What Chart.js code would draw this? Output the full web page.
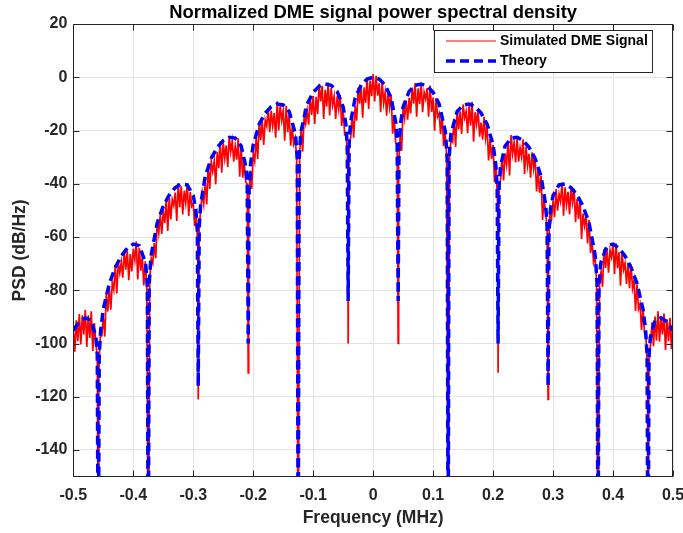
<!DOCTYPE html>
<html><head><meta charset="utf-8">
<script src="https://cdn.jsdelivr.net/npm/chart.js@4.4.1/dist/chart.umd.min.js"></script>
<style>html,body{margin:0;padding:0;background:#fff}#wrap{width:683px;height:533px}</style>
</head><body><div id="wrap"><canvas id="c" width="683" height="533"></canvas></div>
<script>
const chartTitle = 'Normalized DME signal power spectral density';
const xAxisLabel = 'Frequency (MHz)';
const yAxisLabel = 'PSD (dB/Hz)';
const seriesNames = ['Simulated DME Signal', 'Theory'];
const xTicks = [-0.5,-0.4,-0.3,-0.2,-0.1,0,0.1,0.2,0.3,0.4,0.5];
const yTicks = [20,0,-20,-40,-60,-80,-100,-120,-140];

// Theory curve
const freqTheory = [-0.50,-0.49,-0.48,-0.47,-0.4623,-0.46,-0.4583,-0.4568,-0.4543,-0.45,-0.44,-0.43,-0.42,-0.41,-0.40,-0.39,-0.38,-0.379,-0.3765,-0.375,-0.3735,-0.371,-0.37,-0.36,-0.35,-0.34,-0.33,-0.32,-0.31,-0.30,-0.2957,-0.2932,-0.2917,-0.29,-0.2877,-0.28,-0.27,-0.26,-0.25,-0.24,-0.23,-0.22,-0.2123,-0.21,-0.2083,-0.2068,-0.2043,-0.20,-0.19,-0.18,-0.17,-0.16,-0.15,-0.14,-0.13,-0.129,-0.1265,-0.125,-0.1235,-0.121,-0.12,-0.11,-0.10,-0.09,-0.08,-0.07,-0.06,-0.05,-0.0457,-0.0432,-0.0417,-0.04,-0.0377,-0.03,-0.02,-0.01,
0,0.01,0.02,0.03,0.0377,0.04,0.0417,0.0432,0.0457,0.05,0.06,0.07,0.08,0.09,0.10,0.11,0.12,0.121,0.1235,0.125,0.1265,0.129,0.13,0.14,0.15,0.16,0.17,0.18,0.19,0.20,0.2043,0.2068,0.2083,0.21,0.2123,0.22,0.23,0.24,0.25,0.26,0.27,0.28,0.2877,0.29,0.2917,0.2932,0.2957,0.30,0.31,0.32,0.33,0.34,0.35,0.36,0.37,0.371,0.3735,0.375,0.3765,0.379,0.38,0.39,0.40,0.41,0.42,0.43,0.44,0.45,0.4543,0.4568,0.4583,0.46,0.4623,0.47,0.48,0.49,0.50];
const psdTheory = [-95.00,-91.87,-90.30,-91.36,-97.7,-104.45,-200,-104.3,-94.9,-87.15,-77.48,-71.41,-67.10,-64.16,-62.64,-63.22,-69.42,-71.0,-78.8,-200,-78.0,-68.8,-66.57,-54.67,-48.39,-44.21,-41.45,-40.06,-40.43,-44.40,-49.7,-57.6,-116,-56.00,-47.9,-37.21,-30.45,-26.32,-23.75,-22.52,-22.85,-25.81,-33.6,-40.80,-100,-41.2,-32.3,-25.40,-17.63,-13.46,-11.05,-10.01,-10.39,-12.87,-20.97,-22.8,-31.0,-200,-30.8,-22.0,-20.02,-10.02,-5.64,-3.36,-2.50,-3.01,-5.28,-11.15,-17.3,-25.6,-84,-24.65,-17.0,-7.76,-2.90,-0.67,
0,-0.67,-2.90,-7.76,-17.0,-24.65,-84,-25.6,-17.3,-11.15,-5.28,-3.01,-2.50,-3.36,-5.64,-10.02,-20.02,-22.0,-30.8,-200,-31.0,-22.8,-20.97,-12.87,-10.39,-10.01,-11.05,-13.46,-17.63,-25.40,-32.3,-41.2,-100,-40.80,-33.6,-25.81,-22.85,-22.52,-23.75,-26.32,-30.45,-37.21,-47.9,-56.00,-116,-57.6,-49.7,-44.40,-40.43,-40.06,-41.45,-44.21,-48.39,-54.67,-66.57,-68.8,-78.0,-200,-78.8,-71.0,-69.42,-63.22,-62.64,-64.16,-67.10,-71.41,-77.48,-87.15,-94.9,-104.3,-200,-104.45,-97.7,-91.36,-90.30,-91.87,-95.00];

const simStartFreq = -0.5;
const simStepFreq = 0.0025;
const psdSim = [
-94.0,-103.1,-91.3,-99.1,-88.9,-100.4,-89.4,-96.6,-87.3,-101.3,-89.4,-97.9,-87.9,-102.8,-92.3,-99.3,-105.5,-110.6,-97.5,-97.1,
-89.8,-97.4,-81.3,-88.0,-78.9,-87.3,-77.2,-79.8,-70.4,-81.2,-69.5,-73.6,-69.3,-75.3,-64.9,-72.3,-65.2,-76.2,-66.4,-72.9,
-64.4,-68.6,-61.7,-75.9,-64.0,-72.6,-67.6,-78.2,-69.1,-77.7,-200,-75.7,-68.0,-69.9,-62.3,-68.0,-53.7,-58.4,-51.6,-58.8,
-50.6,-54.7,-45.5,-57.7,-45.2,-53.4,-45.9,-48.1,-43.3,-54.0,-39.7,-48.8,-40.9,-51.5,-42.6,-47.2,-40.1,-52.1,-43.1,-48.5,
-47.4,-55.9,-50.1,-64.6,-56.0,-49.5,-43.4,-47.6,-39.4,-47.8,-32.8,-41.9,-31.5,-35.3,-31.4,-40.2,-28.1,-34.1,-24.0,-35.8,
-24.6,-30.4,-25.6,-33.7,-22.2,-28.0,-23.9,-31.7,-25.9,-30.9,-22.9,-37.3,-26.2,-37.7,-31.9,-39.2,-40.2,-48.0,-35.0,-41.9,
-28.6,-31.6,-22.6,-30.7,-16.7,-23.5,-16.1,-25.4,-16.1,-18.3,-11.8,-20.6,-12.5,-18.2,-13.4,-22.7,-9.0,-20.0,-10.4,-16.2,
-12.6,-23.8,-10.7,-20.6,-13.9,-25.7,-18.8,-25.0,-22.8,-30.2,-200,-28.7,-19.1,-27.9,-14.5,-17.4,-12.6,-17.8,-7.2,-14.1,
-7.0,-17.5,-7.3,-13.8,-2.4,-9.1,-3.2,-15.6,-4.7,-11.0,-2.0,-14.3,-4.0,-10.4,-7.1,-15.6,-7.1,-11.9,-6.6,-18.3,
-12.0,-21.6,-21.4,-32.8,-24.4,-22.6,-14.0,-22.7,-10.8,-16.3,-3.9,-9.9,-3.3,-15.2,-3.8,-9.6,-0.1,-11.9,-1.2,-7.1,
1.2,
-9.1,0.6,-6.9,-2.2,-13.1,-1.4,-9.7,-5.7,-14.4,-5.5,-11.3,-6.6,-21.2,-14.6,-24.6,-25.0,-33.0,-22.3,-27.6,-10.7,
-15.3,-8.7,-15.9,-7.7,-13.6,-3.9,-9.9,-2.2,-14.8,-4.1,-10.0,-2.3,-13.1,-5.6,-8.1,-4.0,-14.8,-3.1,-13.0,-7.6,
-20.1,-7.8,-14.8,-13.5,-21.4,-13.2,-25.9,-21.2,-29.2,-200,-28.7,-23.4,-24.3,-15.6,-26.2,-12.1,-19.6,-12.8,-21.3,-10.2,
-15.2,-12.8,-21.0,-10.6,-18.2,-9.2,-24.2,-13.1,-17.6,-12.4,-22.3,-17.0,-23.4,-14.8,-23.0,-18.8,-31.2,-23.2,-30.6,-25.4,
-39.4,-33.2,-48.0,-42.3,-38.2,-29.5,-38.7,-28.6,-32.8,-24.5,-36.9,-21.7,-28.7,-24.5,-32.0,-22.8,-31.7,-26.5,-29.9,-23.3,
-36.3,-26.1,-33.1,-28.7,-37.7,-28.2,-34.3,-29.7,-42.9,-34.9,-43.3,-37.0,-53.6,-45.8,-50.5,-56.6,-64.0,-49.9,-52.9,-46.4,
-52.5,-42.0,-50.1,-43.9,-46.7,-39.5,-52.0,-41.3,-47.8,-43.0,-51.5,-41.5,-47.1,-41.9,-54.4,-45.7,-53.2,-45.9,-60.7,-51.2,
-55.8,-51.8,-62.4,-53.5,-66.0,-61.3,-69.4,-66.9,-76.2,-200,-76.7,-72.9,-78.7,-64.5,-71.6,-64.4,-73.4,-65.0,-67.6,-62.6,
-73.9,-62.4,-71.7,-65.7,-78.3,-65.3,-72.3,-69.9,-77.6,-69.7,-79.2,-70.2,-79.3,-76.2,-87.8,-77.8,-87.0,-85.1,-94.9,-86.7,
-96.1,-97.9,-111.0,-106.9,-100.3,-92.0,-101.0,-89.9,-98.9,-87.9,-99.3,-90.0,-96.6,-88.7,-102.4,-90.9,-99.1,-90.3,-102.1,-92.5
];
// Deep notches of the simulated signal between samples
const simNullFreq = [-0.45833,-0.29167,-0.20833,-0.04167,0.04167,0.20833,0.29167,0.45833];
const simNullPsd = [-200,-121,-111,-100,-100,-111,-121,-200];

// ---- build tables for the library ----
const simPoints = psdSim.map((v, i) => ({x: +(simStartFreq + i * simStepFreq).toFixed(4), y: v}));
simNullFreq.forEach((f, i) => simPoints.push({x: f, y: simNullPsd[i]}));
simPoints.sort((a, b) => a.x - b.x);
const theoryPoints = freqTheory.map((f, i) => ({x: f, y: psdTheory[i]}));

const FONT = '"Liberation Sans", Arial, Helvetica, sans-serif';
const AXIS_COLOR = '#262626';

const boxPlugin = {
  id: 'boxPlugin',
  afterDatasetsDraw(chart) {
    const {ctx, chartArea: a, scales: {x, y}} = chart;
    ctx.save();
    ctx.strokeStyle = AXIS_COLOR;
    ctx.lineWidth = 1;
    ctx.setLineDash([]);
    const L = Math.round(a.left) + 0.5, R = Math.round(a.right) - 0.5;
    const T = Math.round(a.top) + 0.5, B = Math.round(a.bottom) - 0.5;
    ctx.strokeRect(L, T, R - L, B - T);
    const tl = 6;
    ctx.beginPath();
    x.ticks.forEach(t => {
      const px = Math.round(x.getPixelForValue(t.value)) + 0.5;
      ctx.moveTo(px, B); ctx.lineTo(px, B - tl);
      ctx.moveTo(px, T); ctx.lineTo(px, T + tl);
    });
    y.ticks.forEach(t => {
      const py = Math.round(y.getPixelForValue(t.value)) + 0.5;
      ctx.moveTo(L, py); ctx.lineTo(L + tl, py);
      ctx.moveTo(R, py); ctx.lineTo(R - tl, py);
    });
    ctx.stroke();

    // legend
    const lx = 434.5, ly = 30.5, lw = 218, lh = 42;
    ctx.fillStyle = '#ffffff';
    ctx.fillRect(lx, ly, lw, lh);
    ctx.strokeStyle = AXIS_COLOR;
    ctx.strokeRect(lx, ly, lw, lh);
    const ds = chart.data.datasets;
    const rows = [41, 61];
    ds.forEach((d, i) => {
      ctx.save();
      ctx.strokeStyle = d.borderColor;
      ctx.lineWidth = i === 0 ? 1 : d.borderWidth;
      ctx.setLineDash(d.borderDash || []);
      ctx.beginPath();
      ctx.moveTo(446, rows[i]); ctx.lineTo(496, rows[i]);
      ctx.stroke();
      ctx.restore();
      ctx.fillStyle = '#000';
      ctx.font = 'bold 14px ' + FONT;
      ctx.textBaseline = 'middle';
      ctx.textAlign = 'left';
      ctx.fillText(d.label, 500, rows[i] + 0.5);
    });
    ctx.restore();
  }
};

new Chart(document.getElementById('c'), {
  type: 'line',
  data: {
    datasets: [
      {label: seriesNames[0], data: simPoints, borderColor: '#ff0000', borderWidth: 1.7,
       pointRadius: 0, tension: 0, fill: false, order: 2},
      {label: seriesNames[1], data: theoryPoints, borderColor: '#0000ff', borderWidth: 3.5,
       borderDash: [9, 5], pointRadius: 0, tension: 0, fill: false, order: 1}
    ]
  },
  options: {
    responsive: false,
    animation: false,
    devicePixelRatio: 1,
    layout: {padding: {left: 0, right: 10, top: 0, bottom: 0}},
    plugins: {
      legend: {display: false},
      tooltip: {enabled: false},
      title: {display: true, text: chartTitle, fullSize: false, color: '#000',
              font: {family: FONT, size: 18.4, weight: 'bold'}, padding: {top: 2, bottom: 0}}
    },
    scales: {
      x: {
        type: 'linear', min: -0.5, max: 0.5,
        afterBuildTicks: s => { s.ticks = xTicks.map(v => ({value: v})); },
        afterFit: s => { s.height = 56.4; s.paddingLeft = 0; s.paddingRight = 0; },
        grid: {color: '#e3e3e3', lineWidth: 1, drawTicks: false},
        border: {display: false},
        ticks: {color: '#262626', padding: 9, maxRotation: 0, autoSkip: false,
                font: {family: FONT, size: 16, weight: 'bold'}, callback: v => String(v)},
        title: {display: true, text: xAxisLabel, color: '#262626',
                font: {family: FONT, size: 17.5, weight: 'bold'}, padding: {top: 0, bottom: 4.5}}
      },
      y: {
        type: 'linear', min: -150, max: 20,
        afterBuildTicks: s => { s.ticks = yTicks.map(v => ({value: v})); },
        afterFit: s => { s.width = 73.3; s.paddingTop = 0; s.paddingBottom = 0; },
        grid: {color: '#e3e3e3', lineWidth: 1, drawTicks: false},
        border: {display: false},
        ticks: {color: '#262626', padding: 6, autoSkip: false,
                font: {family: FONT, size: 16, weight: 'bold'}, callback: v => String(v)},
        title: {display: true, text: yAxisLabel, color: '#262626',
                font: {family: FONT, size: 17.5, weight: 'bold'}, padding: {top: 9.5, bottom: 0}}
      }
    }
  },
  plugins: [boxPlugin]
});
</script>
</body></html>
